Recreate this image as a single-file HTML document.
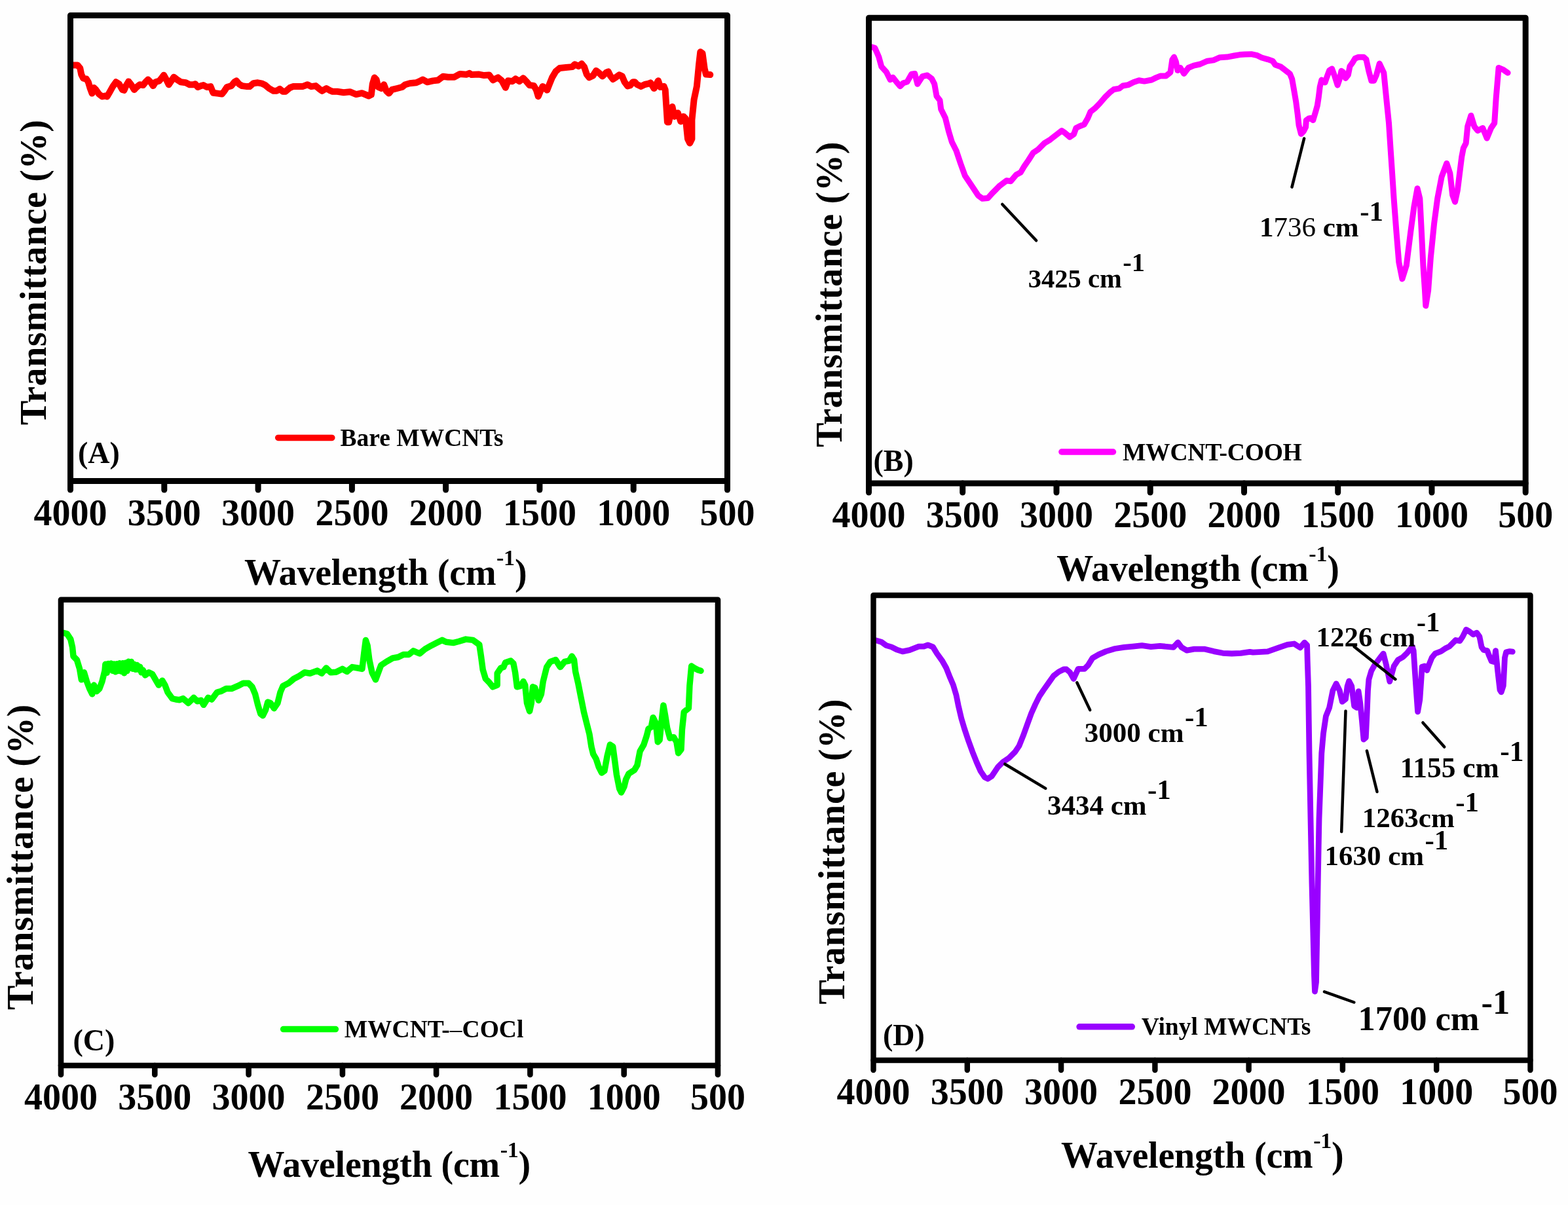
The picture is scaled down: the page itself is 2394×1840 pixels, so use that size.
<!DOCTYPE html>
<html><head><meta charset="utf-8"><title>FTIR spectra</title><style>html,body{margin:0;padding:0;background:#fefefe;overflow:hidden;}svg{display:block;}</style></head><body>
<svg width="2394" height="1840" viewBox="0 0 2394 1840">
<rect width="2394" height="1840" fill="#fefefe"/>
<polyline points="112.2,99.4 118.4,99.4 122.3,104.2 124.2,113.8 127.1,119.6 131.9,120.5 134.8,125.3 137.7,135.0 140.5,142.6 143.4,134.0 146.3,136.9 151.1,143.6 155.9,147.4 160.7,146.5 163.6,147.4 167.4,140.7 172.2,132.1 177.0,125.3 181.8,128.2 186.7,136.9 189.5,137.8 192.4,131.1 196.3,124.4 200.1,129.2 204.9,136.9 208.7,133.0 213.5,129.2 218.4,130.1 222.2,125.3 226.0,121.5 229.9,125.3 233.7,131.1 237.6,125.3 243.3,123.4 247.2,118.6 250.1,114.8 253.9,121.5 257.7,129.2 261.6,123.4 265.4,117.7 270.2,121.5 276.0,125.3 283.7,126.3 289.4,129.2 295.2,129.2 298.1,128.2 301.9,133.0 306.7,131.1 310.6,130.1 315.8,133.0 321.5,132.1 325.4,141.7 332.1,142.6 338.8,143.6 342.7,138.8 346.5,133.0 353.2,131.1 358.0,125.3 360.9,123.4 364.8,128.2 369.6,131.1 377.2,132.1 381.1,132.1 386.8,127.3 393.6,126.3 399.3,127.3 405.1,130.1 410.9,135.0 417.6,138.8 422.4,138.8 427.2,135.9 432.0,139.8 435.8,139.8 442.6,134.0 447.4,132.1 454.1,132.1 461.8,132.1 469.5,129.2 475.2,132.1 482.0,131.1 487.7,135.9 491.6,138.8 498.3,135.0 503.1,137.8 507.9,139.8 513.7,139.8 515.0,139.8 524.6,141.2 534.2,140.2 543.8,144.1 552.5,142.2 563.0,146.5 566.9,144.6 568.8,128.2 571.7,118.6 574.6,121.5 577.4,133.0 582.2,135.0 586.1,129.2 589.9,138.8 593.8,142.6 598.6,136.9 606.3,135.0 613.9,133.0 618.7,129.2 625.5,127.3 635.1,126.3 639.9,124.4 645.6,121.5 652.4,125.3 661.0,123.4 668.7,122.5 676.4,116.7 684.1,117.7 693.7,117.7 702.3,112.9 711.9,113.8 716.7,111.9 720.0,114.1 731.5,113.6 739.2,115.1 746.9,114.6 752.7,122.3 760.3,118.4 766.1,123.2 771.9,133.8 775.7,123.2 782.4,124.2 787.2,120.3 793.0,124.2 798.8,119.4 803.6,124.2 808.4,130.0 815.1,130.9 818.9,137.6 821.8,147.2 825.7,137.6 828.5,131.9 835.3,137.6 839.1,128.0 843.0,118.4 848.7,108.8 854.5,104.0 864.1,103.1 873.7,102.1 877.5,98.3 883.3,101.1 888.1,97.3 892.0,102.1 895.8,113.6 899.6,118.4 905.4,115.5 910.2,107.9 915.0,111.7 919.8,116.5 925.6,110.7 928.8,109.5 932.1,116.2 936.0,121.0 940.2,118.1 945.5,114.3 949.8,116.2 953.6,125.2 958.3,131.4 962.1,130.5 966.4,125.2 969.3,125.2 972.6,129.0 978.8,131.9 984.5,129.0 990.7,127.6 993.2,126.4 998.6,135.0 1005.0,123.2 1008.2,132.9 1013.6,131.8 1015.7,137.1 1018.9,186.4 1021.1,186.4 1026.4,162.9 1029.6,177.9 1035.0,172.5 1039.3,185.4 1043.6,177.9 1046.8,181.1 1050.0,212.1 1053.2,218.6 1056.4,212.1 1056.4,183.2 1059.6,152.1 1063.9,131.8 1067.1,98.6 1069.3,79.3 1072.5,81.4 1075.7,105.0 1077.9,113.6 1084.3,114.1" fill="none" stroke="#ff0000" stroke-width="10" stroke-linejoin="round" stroke-linecap="round"/>
<polyline points="1330.8,71.7 1335.8,73.3 1341.7,86.7 1345.8,101.7 1353.3,110.0 1359.2,121.7 1363.3,118.3 1370.0,126.7 1374.2,131.7 1379.2,126.7 1385.0,125.0 1391.7,113.3 1396.7,112.5 1400.8,128.3 1408.3,116.7 1415.8,115.0 1422.5,120.0 1426.7,128.3 1430.0,146.7 1435.0,153.3 1436.7,166.7 1443.3,180.0 1448.3,200.0 1453.3,216.7 1460.0,230.0 1466.7,250.0 1473.3,268.3 1480.0,278.3 1486.7,288.3 1493.3,298.3 1500.0,303.3 1508.3,302.5 1515.0,295.0 1520.0,290.0 1526.7,283.3 1536.7,275.8 1543.3,276.7 1551.7,266.7 1558.3,263.3 1564.2,253.3 1570.0,245.0 1577.5,233.3 1585.0,228.3 1595.0,218.3 1603.3,213.3 1611.7,206.7 1621.0,199.6 1625.1,202.3 1633.3,209.2 1639.5,205.1 1642.9,195.5 1648.4,192.7 1655.3,190.0 1660.8,180.4 1664.9,170.8 1671.8,165.3 1678.6,158.4 1686.8,148.8 1695.1,140.6 1700.6,136.5 1708.8,135.1 1714.3,131.0 1722.5,129.6 1730.8,125.5 1739.0,122.7 1747.2,124.1 1758.2,122.0 1765.1,118.6 1771.9,115.9 1780.2,115.9 1787.0,110.4 1789.8,91.2 1792.5,87.1 1795.3,93.9 1798.0,107.6 1802.1,103.5 1807.6,112.4 1814.5,103.5 1822.7,100.1 1832.3,98.0 1843.3,93.2 1852.9,91.9 1862.5,87.7 1873.5,87.1 1884.5,85.0 1892.7,83.6 1900.9,82.9 1910.5,82.7 1919.6,84.7 1926.2,88.0 1935.4,90.6 1943.2,93.2 1947.1,99.1 1955.0,101.7 1962.8,107.6 1969.4,112.8 1972.7,120.7 1975.9,139.0 1978.6,154.7 1981.2,174.4 1983.1,191.4 1986.4,204.5 1990.3,200.6 1993.6,194.0 1994.3,183.6 1998.2,180.9 2000.8,180.3 2004.7,183.6 2008.7,170.5 2011.3,161.3 2013.3,148.2 2015.2,132.5 2017.8,122.0 2023.1,125.9 2025.7,118.1 2029.6,107.6 2033.6,105.0 2037.5,115.5 2042.1,129.9 2045.3,120.7 2048.0,108.3 2050.6,110.2 2054.5,119.4 2058.4,114.2 2061.0,101.1 2065.0,95.8 2068.9,89.3 2074.1,87.3 2082.0,87.3 2085.9,90.6 2089.9,108.9 2093.8,123.3 2097.7,123.3 2101.6,114.2 2106.2,97.1 2112.8,111.2 2116.6,149.6 2120.5,187.9 2123.0,226.3 2125.6,264.7 2128.1,303.1 2132.0,354.3 2135.8,400.3 2140.9,425.9 2147.3,405.4 2153.7,354.3 2158.9,315.9 2164.0,287.7 2167.8,303.1 2170.4,354.3 2172.9,405.4 2175.5,443.8 2176.8,466.9 2180.6,443.8 2184.4,392.7 2189.6,341.5 2194.7,303.1 2201.1,269.8 2208.8,249.4 2213.9,264.7 2217.7,298.0 2221.5,308.2 2225.4,290.3 2229.2,259.6 2231.8,239.1 2234.3,226.3 2238.2,218.6 2240.7,193.1 2245.9,176.4 2251.0,193.1 2256.1,199.5 2263.8,195.6 2270.2,211.0 2276.6,195.6 2281.7,187.9 2284.2,149.6 2288.1,103.5 2294.5,106.1 2302.1,111.2" fill="none" stroke="#ff00ff" stroke-width="9" stroke-linejoin="round" stroke-linecap="round"/>
<polyline points="97.5,966.5 102.4,967.8 107.8,976.1 110.6,988.4 112.0,1002.1 117.4,1007.6 121.6,1021.4 124.3,1037.8 128.4,1026.8 132.5,1040.6 136.7,1051.6 140.8,1059.8 143.5,1046.1 147.6,1055.7 151.8,1051.6 155.9,1040.6 160.0,1024.1 160.9,1014.3 163.1,1027.2 165.3,1013.4 167.5,1022.5 169.7,1013.1 171.9,1024.2 174.1,1014.0 176.3,1025.8 178.5,1013.7 180.7,1024.4 182.9,1012.8 185.1,1025.1 187.3,1012.8 189.5,1027.8 191.7,1012.2 193.9,1024.5 196.1,1010.3 198.3,1020.1 200.5,1010.5 202.7,1021.3 204.9,1014.3 207.1,1022.3 209.3,1015.6 211.5,1022.3 213.7,1018.2 215.9,1026.8 218.1,1023.0 221.7,1031.0 227.2,1026.8 232.7,1029.6 238.2,1039.2 242.3,1046.1 247.8,1039.2 251.9,1046.1 256.0,1057.0 262.9,1066.6 268.4,1068.0 273.9,1068.7 279.4,1066.6 287.6,1073.5 295.8,1065.3 301.3,1070.8 306.8,1069.4 310.9,1076.3 317.8,1065.3 323.3,1068.0 331.5,1057.0 337.0,1055.7 345.2,1051.6 353.5,1051.6 363.1,1047.4 371.3,1043.3 379.6,1043.3 385.0,1048.8 389.6,1059.8 393.7,1076.3 397.8,1090.0 401.3,1092.7 405.4,1084.5 408.8,1072.1 412.9,1073.5 418.4,1081.7 423.9,1073.5 428.0,1057.0 432.1,1047.4 440.4,1043.3 448.6,1036.5 456.8,1032.3 465.1,1026.8 473.3,1028.2 484.3,1024.1 491.2,1028.2 498.0,1020.0 504.9,1026.8 513.1,1026.2 522.7,1021.4 529.6,1025.5 537.8,1018.6 546.0,1020.0 552.9,1021.4 555.7,998.0 558.4,977.4 561.1,985.7 563.9,1007.6 568.0,1026.8 573.5,1037.8 577.6,1026.8 581.7,1015.9 590.0,1010.4 599.6,1004.9 607.8,1003.5 616.0,999.4 624.3,999.4 631.1,993.9 640.7,998.0 649.0,991.2 658.6,985.7 666.8,981.6 675.0,977.4 681.0,980.2 692.0,981.6 700.2,979.5 711.2,976.1 722.1,977.4 731.8,984.3 734.5,1002.1 737.2,1022.7 741.4,1036.5 746.8,1041.9 752.3,1048.8 759.2,1046.1 759.2,1028.2 764.7,1020.0 768.8,1018.6 771.6,1011.8 779.8,1009.0 783.9,1013.1 786.6,1026.8 789.4,1048.8 794.9,1047.4 799.0,1040.6 801.7,1046.1 804.5,1073.5 808.6,1085.9 811.3,1073.5 813.4,1048.8 816.8,1050.2 822.3,1069.4 826.4,1059.8 829.2,1040.6 834.7,1018.6 840.2,1010.4 848.4,1007.6 855.3,1018.6 862.1,1010.4 869.0,1009.0 873.1,1002.1 876.5,1007.6 878.6,1025.5 882.9,1044.3 887.1,1065.7 891.4,1087.1 895.7,1104.3 900.0,1121.4 902.9,1140.0 905.7,1151.4 910.0,1158.6 914.3,1171.4 918.6,1180.0 922.9,1177.1 927.1,1154.3 931.4,1137.1 935.7,1140.0 938.6,1161.4 941.4,1182.9 945.7,1204.3 948.6,1210.0 952.9,1201.4 955.7,1190.0 960.0,1181.4 968.6,1175.7 972.9,1168.6 977.1,1147.1 982.9,1137.1 987.1,1124.3 990.0,1112.9 994.3,1110.0 997.1,1095.7 1001.4,1104.3 1004.3,1132.9 1007.1,1130.0 1010.0,1101.4 1012.9,1077.1 1015.7,1092.9 1018.6,1111.4 1022.9,1127.1 1028.6,1125.7 1032.9,1132.9 1035.7,1150.0 1040.0,1144.3 1041.4,1114.3 1044.3,1087.1 1051.4,1081.4 1052.9,1047.1 1055.7,1017.1 1060.0,1020.0 1065.7,1022.9 1070.0,1024.3" fill="none" stroke="#00ff00" stroke-width="9.5" stroke-linejoin="round" stroke-linecap="round"/>
<polyline points="1337.7,977.9 1345.5,980.2 1353.2,985.6 1361.0,987.9 1368.7,991.8 1378.0,994.9 1388.8,992.6 1402.8,987.2 1410.5,987.2 1416.7,984.8 1424.4,987.9 1430.6,998.0 1438.4,1008.8 1444.6,1019.7 1450.7,1035.1 1455.4,1046.0 1460.0,1061.5 1463.1,1076.9 1467.8,1097.1 1472.4,1112.5 1478.6,1131.1 1484.8,1148.1 1491.0,1163.6 1497.2,1177.6 1503.4,1186.8 1508.0,1189.2 1514.2,1185.3 1523.5,1171.4 1531.2,1163.6 1540.5,1157.4 1549.8,1148.1 1556.0,1138.9 1562.2,1123.4 1568.4,1106.3 1574.6,1089.3 1580.8,1075.4 1587.0,1063.0 1593.2,1053.7 1600.9,1042.9 1608.6,1032.0 1616.4,1025.9 1624.1,1022.0 1628.2,1022.0 1633.7,1026.8 1639.2,1036.5 1646.1,1021.4 1655.7,1021.4 1661.2,1015.9 1668.0,1004.9 1677.6,999.4 1688.6,994.6 1702.3,990.5 1716.1,988.4 1729.8,987.1 1743.5,985.7 1757.2,987.7 1771.0,986.4 1791.5,988.4 1798.4,980.9 1803.9,988.4 1812.1,993.2 1823.1,991.2 1839.6,991.2 1853.3,994.6 1867.0,997.3 1880.7,998.0 1894.5,997.3 1908.2,995.3 1913.1,996.1 1935.4,994.8 1952.4,988.9 1965.5,984.3 1975.9,983.0 1985.1,988.9 1991.7,981.1 1995.6,985.0 1996.2,1008.6 1997.5,1047.8 1999.0,1150.0 2001.0,1250.0 2003.0,1350.0 2005.0,1430.0 2006.5,1490.0 2007.5,1514.0 2009.5,1500.0 2011.0,1420.0 2012.5,1330.0 2014.0,1250.0 2017.8,1150.0 2020.5,1119.9 2024.4,1093.7 2029.6,1080.6 2034.9,1054.4 2040.1,1043.9 2045.3,1054.4 2049.3,1071.4 2054.5,1067.5 2057.1,1047.8 2059.7,1040.0 2063.7,1047.8 2067.6,1078.0 2071.5,1080.6 2074.1,1055.7 2076.8,1074.0 2079.4,1100.2 2082.0,1129.0 2085.3,1126.4 2087.2,1087.1 2088.5,1054.4 2089.9,1037.4 2093.8,1024.3 2099.0,1015.1 2106.9,1004.6 2112.1,998.1 2116.4,1015.0 2121.8,1040.7 2128.2,1017.1 2134.6,1007.5 2142.1,1003.2 2148.6,996.8 2153.9,990.3 2156.1,987.1 2158.2,993.6 2160.3,1025.7 2162.5,1057.8 2164.6,1086.8 2167.8,1068.5 2170.0,1036.4 2171.1,1018.2 2175.3,1017.1 2178.6,1023.6 2181.8,1015.0 2186.1,1004.3 2191.4,997.8 2200.0,994.6 2206.4,990.3 2212.8,987.1 2217.1,982.8 2222.5,977.5 2228.9,978.6 2233.2,972.1 2238.5,961.4 2243.9,964.6 2249.3,968.9 2254.6,966.2 2258.9,972.1 2262.1,988.2 2265.3,992.5 2270.7,993.6 2273.9,1002.1 2277.1,1009.6 2281.4,1010.7 2283.5,993.6 2286.8,1025.7 2290.0,1053.6 2292.1,1056.8 2295.3,1047.1 2296.4,1025.7 2297.5,1004.3 2299.6,995.7 2305.0,994.6 2309.3,995.2" fill="none" stroke="#9900ff" stroke-width="8.8" stroke-linejoin="round" stroke-linecap="round"/>
<rect x="107.5" y="23.5" width="1003.0" height="711.0" fill="none" stroke="#000" stroke-width="9" stroke-linejoin="round"/>
<line x1="107.5" y1="734.5" x2="107.5" y2="748" stroke="#000" stroke-width="9" stroke-linecap="round"/>
<text x="107.5" y="801.5" font-family="Liberation Serif, Times New Roman, serif" font-weight="bold" font-size="56" text-anchor="middle">4000</text>
<line x1="250.8" y1="734.5" x2="250.8" y2="748" stroke="#000" stroke-width="9" stroke-linecap="round"/>
<text x="250.8" y="801.5" font-family="Liberation Serif, Times New Roman, serif" font-weight="bold" font-size="56" text-anchor="middle">3500</text>
<line x1="394.1" y1="734.5" x2="394.1" y2="748" stroke="#000" stroke-width="9" stroke-linecap="round"/>
<text x="394.1" y="801.5" font-family="Liberation Serif, Times New Roman, serif" font-weight="bold" font-size="56" text-anchor="middle">3000</text>
<line x1="537.4" y1="734.5" x2="537.4" y2="748" stroke="#000" stroke-width="9" stroke-linecap="round"/>
<text x="537.4" y="801.5" font-family="Liberation Serif, Times New Roman, serif" font-weight="bold" font-size="56" text-anchor="middle">2500</text>
<line x1="680.6" y1="734.5" x2="680.6" y2="748" stroke="#000" stroke-width="9" stroke-linecap="round"/>
<text x="680.6" y="801.5" font-family="Liberation Serif, Times New Roman, serif" font-weight="bold" font-size="56" text-anchor="middle">2000</text>
<line x1="823.9" y1="734.5" x2="823.9" y2="748" stroke="#000" stroke-width="9" stroke-linecap="round"/>
<text x="823.9" y="801.5" font-family="Liberation Serif, Times New Roman, serif" font-weight="bold" font-size="56" text-anchor="middle">1500</text>
<line x1="967.2" y1="734.5" x2="967.2" y2="748" stroke="#000" stroke-width="9" stroke-linecap="round"/>
<text x="967.2" y="801.5" font-family="Liberation Serif, Times New Roman, serif" font-weight="bold" font-size="56" text-anchor="middle">1000</text>
<line x1="1110.5" y1="734.5" x2="1110.5" y2="748" stroke="#000" stroke-width="9" stroke-linecap="round"/>
<text x="1110.5" y="801.5" font-family="Liberation Serif, Times New Roman, serif" font-weight="bold" font-size="56" text-anchor="middle">500</text>
<rect x="1326.5" y="27.2" width="1002.7" height="710.8" fill="none" stroke="#000" stroke-width="9" stroke-linejoin="round"/>
<line x1="1326.5" y1="738" x2="1326.5" y2="752" stroke="#000" stroke-width="9" stroke-linecap="round"/>
<text x="1326.5" y="805.3" font-family="Liberation Serif, Times New Roman, serif" font-weight="bold" font-size="56" text-anchor="middle">4000</text>
<line x1="1469.7" y1="738" x2="1469.7" y2="752" stroke="#000" stroke-width="9" stroke-linecap="round"/>
<text x="1469.7" y="805.3" font-family="Liberation Serif, Times New Roman, serif" font-weight="bold" font-size="56" text-anchor="middle">3500</text>
<line x1="1613.0" y1="738" x2="1613.0" y2="752" stroke="#000" stroke-width="9" stroke-linecap="round"/>
<text x="1613.0" y="805.3" font-family="Liberation Serif, Times New Roman, serif" font-weight="bold" font-size="56" text-anchor="middle">3000</text>
<line x1="1756.2" y1="738" x2="1756.2" y2="752" stroke="#000" stroke-width="9" stroke-linecap="round"/>
<text x="1756.2" y="805.3" font-family="Liberation Serif, Times New Roman, serif" font-weight="bold" font-size="56" text-anchor="middle">2500</text>
<line x1="1899.5" y1="738" x2="1899.5" y2="752" stroke="#000" stroke-width="9" stroke-linecap="round"/>
<text x="1899.5" y="805.3" font-family="Liberation Serif, Times New Roman, serif" font-weight="bold" font-size="56" text-anchor="middle">2000</text>
<line x1="2042.7" y1="738" x2="2042.7" y2="752" stroke="#000" stroke-width="9" stroke-linecap="round"/>
<text x="2042.7" y="805.3" font-family="Liberation Serif, Times New Roman, serif" font-weight="bold" font-size="56" text-anchor="middle">1500</text>
<line x1="2186.0" y1="738" x2="2186.0" y2="752" stroke="#000" stroke-width="9" stroke-linecap="round"/>
<text x="2186.0" y="805.3" font-family="Liberation Serif, Times New Roman, serif" font-weight="bold" font-size="56" text-anchor="middle">1000</text>
<line x1="2329.2" y1="738" x2="2329.2" y2="752" stroke="#000" stroke-width="9" stroke-linecap="round"/>
<text x="2329.2" y="805.3" font-family="Liberation Serif, Times New Roman, serif" font-weight="bold" font-size="56" text-anchor="middle">500</text>
<rect x="93" y="915.7" width="1003.0" height="711.3" fill="none" stroke="#000" stroke-width="8.6" stroke-linejoin="round"/>
<line x1="93.0" y1="1627" x2="93.0" y2="1641" stroke="#000" stroke-width="8.6" stroke-linecap="round"/>
<text x="93.0" y="1694" font-family="Liberation Serif, Times New Roman, serif" font-weight="bold" font-size="56" text-anchor="middle">4000</text>
<line x1="236.3" y1="1627" x2="236.3" y2="1641" stroke="#000" stroke-width="8.6" stroke-linecap="round"/>
<text x="236.3" y="1694" font-family="Liberation Serif, Times New Roman, serif" font-weight="bold" font-size="56" text-anchor="middle">3500</text>
<line x1="379.6" y1="1627" x2="379.6" y2="1641" stroke="#000" stroke-width="8.6" stroke-linecap="round"/>
<text x="379.6" y="1694" font-family="Liberation Serif, Times New Roman, serif" font-weight="bold" font-size="56" text-anchor="middle">3000</text>
<line x1="522.9" y1="1627" x2="522.9" y2="1641" stroke="#000" stroke-width="8.6" stroke-linecap="round"/>
<text x="522.9" y="1694" font-family="Liberation Serif, Times New Roman, serif" font-weight="bold" font-size="56" text-anchor="middle">2500</text>
<line x1="666.1" y1="1627" x2="666.1" y2="1641" stroke="#000" stroke-width="8.6" stroke-linecap="round"/>
<text x="666.1" y="1694" font-family="Liberation Serif, Times New Roman, serif" font-weight="bold" font-size="56" text-anchor="middle">2000</text>
<line x1="809.4" y1="1627" x2="809.4" y2="1641" stroke="#000" stroke-width="8.6" stroke-linecap="round"/>
<text x="809.4" y="1694" font-family="Liberation Serif, Times New Roman, serif" font-weight="bold" font-size="56" text-anchor="middle">1500</text>
<line x1="952.7" y1="1627" x2="952.7" y2="1641" stroke="#000" stroke-width="8.6" stroke-linecap="round"/>
<text x="952.7" y="1694" font-family="Liberation Serif, Times New Roman, serif" font-weight="bold" font-size="56" text-anchor="middle">1000</text>
<line x1="1096.0" y1="1627" x2="1096.0" y2="1641" stroke="#000" stroke-width="8.6" stroke-linecap="round"/>
<text x="1096.0" y="1694" font-family="Liberation Serif, Times New Roman, serif" font-weight="bold" font-size="56" text-anchor="middle">500</text>
<rect x="1333.5" y="909" width="1003.0" height="710.0" fill="none" stroke="#000" stroke-width="8.4" stroke-linejoin="round"/>
<line x1="1333.5" y1="1619" x2="1333.5" y2="1634" stroke="#000" stroke-width="8.4" stroke-linecap="round"/>
<text x="1333.5" y="1686.3" font-family="Liberation Serif, Times New Roman, serif" font-weight="bold" font-size="56" text-anchor="middle">4000</text>
<line x1="1476.8" y1="1619" x2="1476.8" y2="1634" stroke="#000" stroke-width="8.4" stroke-linecap="round"/>
<text x="1476.8" y="1686.3" font-family="Liberation Serif, Times New Roman, serif" font-weight="bold" font-size="56" text-anchor="middle">3500</text>
<line x1="1620.1" y1="1619" x2="1620.1" y2="1634" stroke="#000" stroke-width="8.4" stroke-linecap="round"/>
<text x="1620.1" y="1686.3" font-family="Liberation Serif, Times New Roman, serif" font-weight="bold" font-size="56" text-anchor="middle">3000</text>
<line x1="1763.4" y1="1619" x2="1763.4" y2="1634" stroke="#000" stroke-width="8.4" stroke-linecap="round"/>
<text x="1763.4" y="1686.3" font-family="Liberation Serif, Times New Roman, serif" font-weight="bold" font-size="56" text-anchor="middle">2500</text>
<line x1="1906.6" y1="1619" x2="1906.6" y2="1634" stroke="#000" stroke-width="8.4" stroke-linecap="round"/>
<text x="1906.6" y="1686.3" font-family="Liberation Serif, Times New Roman, serif" font-weight="bold" font-size="56" text-anchor="middle">2000</text>
<line x1="2049.9" y1="1619" x2="2049.9" y2="1634" stroke="#000" stroke-width="8.4" stroke-linecap="round"/>
<text x="2049.9" y="1686.3" font-family="Liberation Serif, Times New Roman, serif" font-weight="bold" font-size="56" text-anchor="middle">1500</text>
<line x1="2193.2" y1="1619" x2="2193.2" y2="1634" stroke="#000" stroke-width="8.4" stroke-linecap="round"/>
<text x="2193.2" y="1686.3" font-family="Liberation Serif, Times New Roman, serif" font-weight="bold" font-size="56" text-anchor="middle">1000</text>
<line x1="2336.5" y1="1619" x2="2336.5" y2="1634" stroke="#000" stroke-width="8.4" stroke-linecap="round"/>
<text x="2336.5" y="1686.3" font-family="Liberation Serif, Times New Roman, serif" font-weight="bold" font-size="56" text-anchor="middle">500</text>
<text x="372.9" y="893.2" font-family="Liberation Serif, Times New Roman, serif" font-weight="bold" font-size="56" letter-spacing="-0.2">Wavelength (cm<tspan font-size="34" dx="0.6" dy="-30">-1</tspan><tspan dy="30">)</tspan></text>
<text x="1613.2" y="886.9" font-family="Liberation Serif, Times New Roman, serif" font-weight="bold" font-size="56" letter-spacing="-0.2">Wavelength (cm<tspan font-size="34" dx="0.6" dy="-30">-1</tspan><tspan dy="30">)</tspan></text>
<text x="378.6" y="1797.2" font-family="Liberation Serif, Times New Roman, serif" font-weight="bold" font-size="56" letter-spacing="-0.2">Wavelength (cm<tspan font-size="34" dx="0.6" dy="-30">-1</tspan><tspan dy="30">)</tspan></text>
<text x="1620.1" y="1782.6" font-family="Liberation Serif, Times New Roman, serif" font-weight="bold" font-size="56" letter-spacing="-0.2">Wavelength (cm<tspan font-size="34" dx="0.6" dy="-30">-1</tspan><tspan dy="30">)</tspan></text>
<text transform="translate(70,649) rotate(-90)" font-family="Liberation Serif, Times New Roman, serif" font-weight="bold" font-size="56" textLength="466" lengthAdjust="spacing">Transmittance (%)</text>
<text transform="translate(1285.4,682.7) rotate(-90)" font-family="Liberation Serif, Times New Roman, serif" font-weight="bold" font-size="56" textLength="466" lengthAdjust="spacing">Transmittance (%)</text>
<text transform="translate(50.1,1541.9) rotate(-90)" font-family="Liberation Serif, Times New Roman, serif" font-weight="bold" font-size="56" textLength="466" lengthAdjust="spacing">Transmittance (%)</text>
<text transform="translate(1288.7,1533.5) rotate(-90)" font-family="Liberation Serif, Times New Roman, serif" font-weight="bold" font-size="56" textLength="466" lengthAdjust="spacing">Transmittance (%)</text>
<line x1="424.7" y1="668.4" x2="506.8" y2="668.4" stroke="#ff0000" stroke-width="9.5" stroke-linecap="round"/>
<text x="519.5" y="681.2" font-family="Liberation Serif, Times New Roman, serif" font-weight="bold" font-size="37.5">Bare MWCNTs</text>
<line x1="1620.9" y1="690" x2="1699.5" y2="690" stroke="#ff00ff" stroke-width="9.5" stroke-linecap="round"/>
<text x="1713.9" y="702.8" font-family="Liberation Serif, Times New Roman, serif" font-weight="bold" font-size="37.5" letter-spacing="-0.2">MWCNT-COOH</text>
<line x1="432.59999999999997" y1="1571.6" x2="512.4" y2="1571.6" stroke="#00ff00" stroke-width="9.5" stroke-linecap="round"/>
<text x="525.7" y="1583.9" font-family="Liberation Serif, Times New Roman, serif" font-weight="bold" font-size="37.5">MWCNT-<tspan font-weight="normal">&#8211;</tspan>COCl</text>
<line x1="1648.1000000000001" y1="1567.8" x2="1728.3" y2="1567.8" stroke="#9900ff" stroke-width="9.5" stroke-linecap="round"/>
<text x="1742.7" y="1579.6" font-family="Liberation Serif, Times New Roman, serif" font-weight="bold" font-size="37.5">Vinyl MWCNTs</text>
<text x="119" y="706.8" font-family="Liberation Serif, Times New Roman, serif" font-weight="bold" font-size="46">(A)</text>
<text x="1333.5" y="718.8" font-family="Liberation Serif, Times New Roman, serif" font-weight="bold" font-size="46">(B)</text>
<text x="111.5" y="1603.5" font-family="Liberation Serif, Times New Roman, serif" font-weight="bold" font-size="46">(C)</text>
<text x="1348" y="1595.6" font-family="Liberation Serif, Times New Roman, serif" font-weight="bold" font-size="46">(D)</text>
<line x1="1530.3" y1="312" x2="1582.1" y2="367.3" stroke="#000" stroke-width="4.5" stroke-linecap="round"/>
<line x1="1991.1" y1="211.5" x2="1972.5" y2="285.6" stroke="#000" stroke-width="4.5" stroke-linecap="round"/>
<line x1="1534.3" y1="1166.7" x2="1596.3" y2="1203.9" stroke="#000" stroke-width="4.5" stroke-linecap="round"/>
<line x1="1644.3" y1="1042.3" x2="1664.2" y2="1084.1" stroke="#000" stroke-width="4.5" stroke-linecap="round"/>
<line x1="2067.6" y1="987.6" x2="2130.4" y2="1037.2" stroke="#000" stroke-width="4.5" stroke-linecap="round"/>
<line x1="2172.4" y1="1103.4" x2="2205.2" y2="1140.6" stroke="#000" stroke-width="4.5" stroke-linecap="round"/>
<line x1="2086.9" y1="1146.5" x2="2102.5" y2="1209" stroke="#000" stroke-width="4.5" stroke-linecap="round"/>
<line x1="2054.5" y1="1085.8" x2="2048.2" y2="1270" stroke="#000" stroke-width="4.5" stroke-linecap="round"/>
<line x1="2022" y1="1514.4" x2="2067.3" y2="1530.5" stroke="#000" stroke-width="4.5" stroke-linecap="round"/>
<text x="1569.8000000000002" y="438.7" font-family="Liberation Serif, Times New Roman, serif" font-weight="bold" font-size="40.5">3425 cm<tspan dx="1.5" dy="-25">-1</tspan></text>
<text x="1923.0" y="361.4" font-family="Liberation Serif, Times New Roman, serif" font-weight="bold" font-size="43">1<tspan font-weight="normal">736</tspan> cm<tspan dx="1.5" dy="-24">-1</tspan></text>
<text x="1598.9" y="1244.3" font-family="Liberation Serif, Times New Roman, serif" font-weight="bold" font-size="43">3434 cm<tspan dx="1.5" dy="-24.7">-1</tspan></text>
<text x="1655.8000000000002" y="1132.7" font-family="Liberation Serif, Times New Roman, serif" font-weight="bold" font-size="43">3000 cm<tspan dx="1.5" dy="-24">-1</tspan></text>
<text x="2009.6" y="987" font-family="Liberation Serif, Times New Roman, serif" font-weight="bold" font-size="43">1226 cm<tspan dx="1.5" dy="-23.5">-1</tspan></text>
<text x="2137.7999999999997" y="1186.7" font-family="Liberation Serif, Times New Roman, serif" font-weight="bold" font-size="43.5">1155 cm<tspan dx="1.5" dy="-24.5">-1</tspan></text>
<text x="2079.7999999999997" y="1263.4" font-family="Liberation Serif, Times New Roman, serif" font-weight="bold" font-size="43">1263cm<tspan dx="1.5" dy="-24.6">-1</tspan></text>
<text x="2022.3999999999999" y="1320.6" font-family="Liberation Serif, Times New Roman, serif" font-weight="bold" font-size="43">1630 cm<tspan dx="1.5" dy="-24">-1</tspan></text>
<text x="2073.4" y="1573" font-family="Liberation Serif, Times New Roman, serif" font-weight="bold" font-size="52.5">1700 cm<tspan dx="3" dy="-25">-1</tspan></text>
</svg>
</body></html>
